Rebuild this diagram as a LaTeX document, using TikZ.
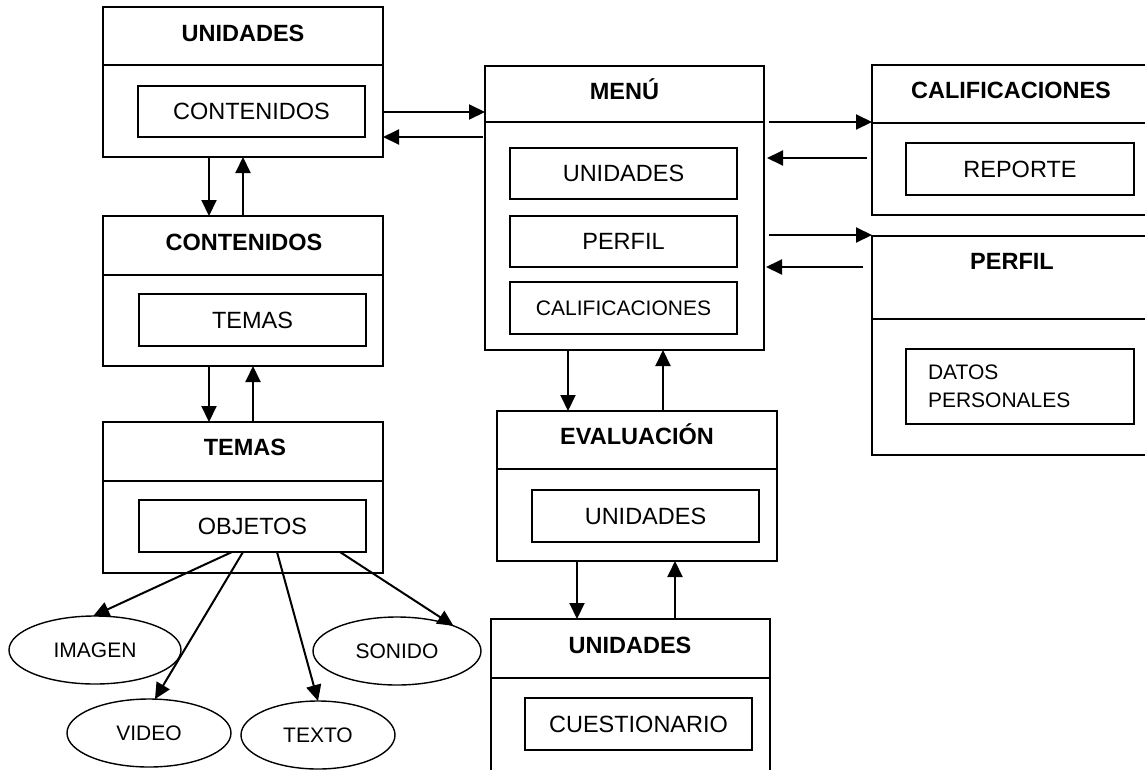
\documentclass[tikz,border=0pt]{standalone}
\usepackage{fontspec}
\setmainfont{Liberation Sans}
\usetikzlibrary{arrows.meta,shapes.geometric}
\begin{document}
\begin{tikzpicture}[x=1pt,y=-1pt,
  outer/.style={draw, line width=2pt, rectangle, inner sep=0pt, outer sep=0pt},
  inbox/.style={draw, line width=1.9pt, rectangle, inner sep=0pt, outer sep=0pt,
                font=\fontsize{23.5}{28}\selectfont},
  title/.style={font=\bfseries\fontsize{23.5}{28}\selectfont, anchor=base, inner sep=0pt},
  bubble/.style={draw, ellipse, line width=1.4pt, inner sep=0pt, outer sep=0pt,
                 font=\fontsize{21}{25}\selectfont},
  divider/.style={line width=2pt},
  arr/.style={line width=2pt, -{Triangle[length=16pt,width=15pt]}}]
\useasboundingbox (0,0) rectangle (1145,769);
\clip (0,0) rectangle (1145,769);

% ---- UNIDADES (top left)
\node[outer, minimum width=280, minimum height=150] (u1) at (243,82) {};
\draw[divider] (u1.west |- 0,65) -- (u1.east |- 0,65);
\node[title] (u1t) at (243,41) {UNIDADES};
\node[inbox, minimum width=227, minimum height=51] (u1i) at (251.5,111.5) {CONTENIDOS};

% ---- CONTENIDOS
\node[outer, minimum width=280, minimum height=150] (ct) at (243,291) {};
\draw[divider] (ct.west |- 0,275) -- (ct.east |- 0,275);
\node[title] (ctt) at (244,250) {CONTENIDOS};
\node[inbox, minimum width=227, minimum height=52] (cti) at (252.5,320) {TEMAS};

% ---- TEMAS
\node[outer, minimum width=280, minimum height=151] (t) at (243,497.5) {};
\draw[divider] (t.west |- 0,481) -- (t.east |- 0,481);
\node[title] (tt) at (245,455) {TEMAS};
\node[inbox, minimum width=227, minimum height=52] (ob) at (252.5,526) {OBJETOS};

% ---- MENÚ
\node[outer, minimum width=279, minimum height=284] (m) at (624.5,208) {};
\draw[divider] (m.west |- 0,122) -- (m.east |- 0,122);
\node[title] (mt) at (624.5,99) {MENÚ};
\node[inbox, minimum width=227, minimum height=51] (mu) at (623.5,173.5) {UNIDADES};
\node[inbox, minimum width=227, minimum height=51] (mp) at (623.5,241.5) {PERFIL};
\node[inbox, minimum width=227, minimum height=52, font=\fontsize{21}{25}\selectfont]
  (mc) at (623.5,308) {CALIFICACIONES};

% ---- CALIFICACIONES
\node[outer, minimum width=288, minimum height=150] (c) at (1016,140) {};
\draw[divider] (c.west |- 0,123) -- (c.east |- 0,123);
\node[title] (ctit) at (1011,98) {CALIFICACIONES};
\node[inbox, minimum width=228, minimum height=52] (ci) at (1020,169) {REPORTE};

% ---- PERFIL
\node[outer, minimum width=288, minimum height=219] (p) at (1016,345.5) {};
\draw[divider] (p.west |- 0,319) -- (p.east |- 0,319);
\node[title] (pt) at (1012,269) {PERFIL};
\node[inbox, minimum height=75, text width=184, inner xsep=22, align=left,
      font=\fontsize{21}{28}\selectfont] (pi) at (1020,386.5) {DATOS\\PERSONALES};

% ---- EVALUACIÓN
\node[outer, minimum width=280, minimum height=150] (e) at (637,486) {};
\draw[divider] (e.west |- 0,469) -- (e.east |- 0,469);
\node[title] (et) at (637,444) {EVALUACIÓN};
\node[inbox, minimum width=227, minimum height=52] (ei) at (645.5,516) {UNIDADES};

% ---- UNIDADES (bottom)
\node[outer, minimum width=279, minimum height=201] (u2) at (630.5,719.5) {};
\draw[divider] (u2.west |- 0,678) -- (u2.east |- 0,678);
\node[title] (u2t) at (630,653) {UNIDADES};
\node[inbox, minimum width=227, minimum height=52] (u2i) at (638.5,724) {CUESTIONARIO};

% ---- media objects
\node[bubble, minimum width=172, minimum height=68] (img) at (95,650) {IMAGEN};
\node[bubble, minimum width=164, minimum height=68] (vid) at (149,733) {VIDEO};
\node[bubble, minimum width=154, minimum height=68] (txt) at (318,735) {TEXTO};
\node[bubble, minimum width=168, minimum height=68] (son) at (397,651) {SONIDO};

% ---- connectors: UNIDADES <-> MENÚ
\draw[arr] (u1.east |- 0,112) -- (m.west |- 0,112);
\draw[arr, shorten <=2pt] (m.west |- 0,137) -- (u1.east |- 0,137);

% ---- MENÚ <-> CALIFICACIONES / PERFIL
\draw[arr, shorten <=5pt] (m.east |- 0,122) -- (c.west |- 0,122);
\draw[arr, shorten <=5pt, shorten >=3pt] (c.west |- 0,158) -- (m.east |- 0,158);
\draw[arr, shorten <=5pt] (m.east |- 0,235) -- (p.west |- 0,235);
\draw[arr, shorten <=9pt, shorten >=2pt] (p.west |- 0,267) -- (m.east |- 0,267);

% ---- left column
\draw[arr] (u1.south -| 209,0) -- (ct.north -| 209,0);
\draw[arr] (ct.north -| 243,0) -- (u1.south -| 243,0);
\draw[arr] (ct.south -| 209,0) -- (t.north -| 209,0);
\draw[arr] (t.north -| 253,0) -- (ct.south -| 253,0);

% ---- MENÚ <-> EVALUACIÓN <-> UNIDADES
\draw[arr] (m.south -| 568,0) -- (e.north -| 568,0);
\draw[arr] (e.north -| 663,0) -- (m.south -| 663,0);
\draw[arr] (e.south -| 577,0) -- (u2.north -| 577,0);
\draw[arr] (u2.north -| 675,0) -- (e.south -| 675,0);

% ---- OBJETOS -> media
\draw[arr] ([xshift=93pt]ob.south west) -- (img.93);
\draw[arr] ([xshift=104pt]ob.south west) -- (vid.80);
\draw[arr] ([xshift=138pt]ob.south west) -- (txt.north);
\draw[arr] ([xshift=201pt]ob.south west) -- (son.24);
\end{tikzpicture}
\end{document}
